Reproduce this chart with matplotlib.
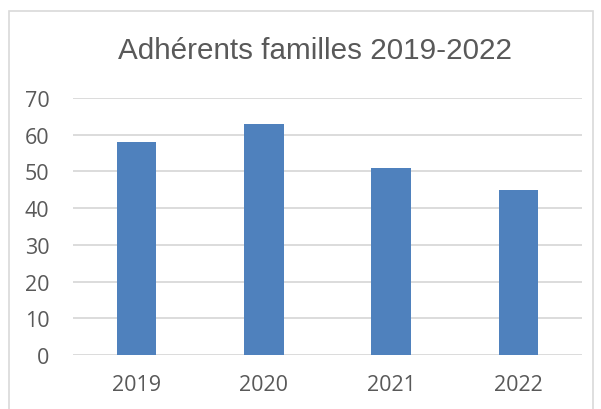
import matplotlib
matplotlib.use("Agg")
from matplotlib import pyplot as plt
from matplotlib.patches import Rectangle

anos = ["2019", "2020", "2021", "2022"]
adherents = [58, 63, 51, 45]
yticks = [0, 10, 20, 30, 40, 50, 60, 70]

W, H = 601, 410
fig = plt.figure(figsize=(W / 100, H / 100), dpi=100)
fig.patch.set_facecolor("white")

# cadre gris autour du graphique
fig.add_artist(Rectangle((8.5 / W, -0.01), (593 - 8.5) / W, 1 - 11.5 / H + 0.01,
                         transform=fig.transFigure, fill=False,
                         edgecolor="#d9d9d9", linewidth=1.2))

ax = fig.add_axes([73 / W, 1 - 356 / H, (582 - 73) / W, (356 - 99) / H])
x = list(range(len(anos)))
ax.bar(x, adherents, width=0.31, color="#4f81bd", zorder=3)
ax.set_xlim(-0.5, len(anos) - 0.5)
ax.set_ylim(0, 70)
ax.set_yticks(yticks)
ax.set_xticks(x)
ax.set_xticklabels(anos)
ax.yaxis.grid(True, color="#d9d9d9", linewidth=1.3, zorder=0)
for s in ax.spines.values():
    s.set_visible(False)
ax.tick_params(length=0, labelsize=15.5, labelcolor="#595959")
ax.tick_params(axis="y", pad=17)
ax.tick_params(axis="x", pad=14)
for lab in ax.get_xticklabels() + ax.get_yticklabels():
    lab.set_fontfamily("Open Sans")

fig.text(315 / W, 1 - 51 / H, "Adhérents familles 2019-2022", ha="center", va="center",
         fontsize=21.3, color="#595959", fontfamily="Liberation Sans")

fig.savefig("out.png", dpi=100)
